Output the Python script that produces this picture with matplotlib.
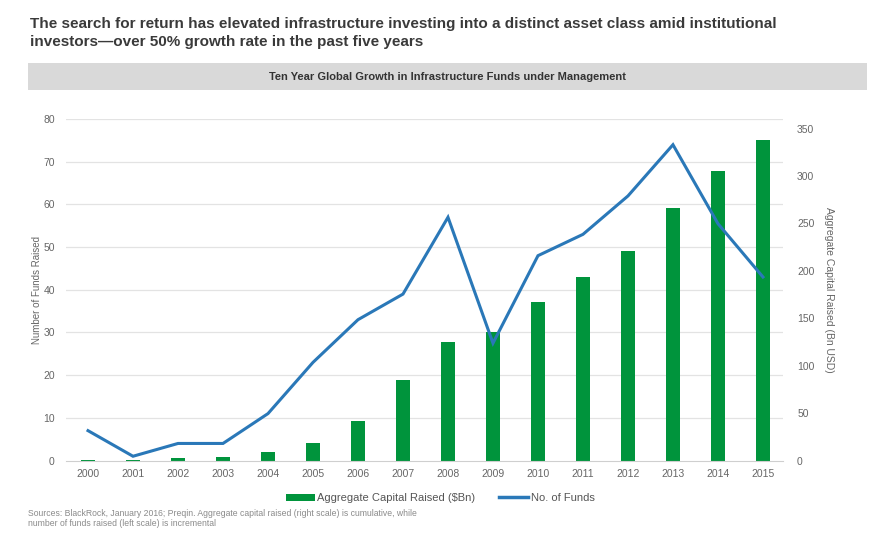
import matplotlib.pyplot as plt
import numpy as np
from matplotlib.patches import Rectangle

plt.rcParams['font.family'] = ['Liberation Sans', 'DejaVu Sans']

years = ['2000', '2001', '2002', '2003', '2004', '2005', '2006', '2007',
         '2008', '2009', '2010', '2011', '2012', '2013', '2014', '2015']
# cumulative capital raised, $Bn (right scale)
capital = [0.8, 0.5, 2.5, 3.5, 8.5, 18, 41.5, 85, 125, 135, 167, 193, 221, 266, 305, 338]
# funds raised per year (left scale)
funds = [7, 1, 4, 4, 11, 23, 33, 39, 57, 27.5, 48, 53, 62, 74, 55.5, 43]

left_ticks = [0, 10, 20, 30, 40, 50, 60, 70, 80]
right_ticks = [0, 50, 100, 150, 200, 250, 300, 350]

green = '#00943c'
blue = '#2a78b8'
gray_txt = '#666666'

fig = plt.figure(figsize=(8.89, 5.39), dpi=100)

fig.text(0.034, 0.968, 'The search for return has elevated infrastructure investing into a distinct asset class amid institutional\n'
         'investors\u2014over 50% growth rate in the past five years',
         ha='left', va='top', fontsize=11, fontweight='bold', color='#3a3a3a', linespacing=1.3)

# grey banner with the chart heading
fig.patches.append(Rectangle((0.031, 0.833), 0.944, 0.05, transform=fig.transFigure,
                             facecolor='#d9d9d9', edgecolor='none'))
fig.text(0.503, 0.858, 'Ten Year Global Growth in Infrastructure Funds under Management',
         ha='center', va='center', fontsize=8, fontweight='bold', color='#333333')

ax = fig.add_axes([0.0742, 0.1456, 0.8068, 0.6334])
x = np.arange(len(years))

# bars on the base axes, scale shown on the right
ax.bar(x, capital, width=0.32, color=green, zorder=2)
ax.set_ylim(0, 360)
ax.set_xlim(-0.49, 15.45)

# line of fund counts on the left scale
axl = ax.twinx()
axl.plot(x, funds, color=blue, lw=2.2, solid_joinstyle='miter')
axl.set_ylim(0, 80)
axl.yaxis.tick_left()
axl.yaxis.set_label_position('left')
axl.set_yticks(left_ticks)
axl.tick_params(axis='y', length=0, labelsize=7.5, labelcolor=gray_txt, pad=8)
axl.set_ylabel('Number of Funds Raised', fontsize=7, color=gray_txt, labelpad=1)
for s in axl.spines.values():
    s.set_visible(False)

ax.yaxis.tick_right()
ax.yaxis.set_label_position('right')
ax.set_yticks(right_ticks)
ax.set_yticks(np.arange(0, 361, 45), minor=True)
ax.grid(axis='y', which='minor', color='#e3e3e3', lw=0.9, zorder=0)
ax.set_axisbelow(True)
ax.tick_params(axis='y', which='both', length=0, labelsize=7.5, labelcolor=gray_txt, pad=10)
ax.set_xticks(x)
ax.set_xticklabels(years)
ax.tick_params(axis='x', length=0, labelsize=7.5, labelcolor=gray_txt, pad=6)
ax.set_ylabel('Aggregate Capital Raised (Bn USD)', rotation=270, fontsize=7.5,
              color=gray_txt, labelpad=14)
for s in ['top', 'left', 'right']:
    ax.spines[s].set_visible(False)
ax.spines['bottom'].set_color('#cfcfcf')

handles = [Rectangle((0, 0), 1, 1, facecolor=green),
           plt.Line2D([0], [0], color=blue, lw=2.5)]
fig.legend(handles, ['Aggregate Capital Raised ($Bn)', 'No. of Funds'],
           loc='center', bbox_to_anchor=(0.495, 0.076), ncol=2, frameon=False,
           fontsize=8, handlelength=2.6, handleheight=0.6, columnspacing=2.2,
           handletextpad=0.2, labelcolor='#555555')

fig.text(0.032, 0.02, 'Sources: BlackRock, January 2016; Preqin. Aggregate capital raised (right scale) is cumulative, while\n'
         'number of funds raised (left scale) is incremental',
         ha='left', va='bottom', fontsize=6.2, color='#8a8a8a', linespacing=1.2)

fig.savefig('out.png', dpi=100)
